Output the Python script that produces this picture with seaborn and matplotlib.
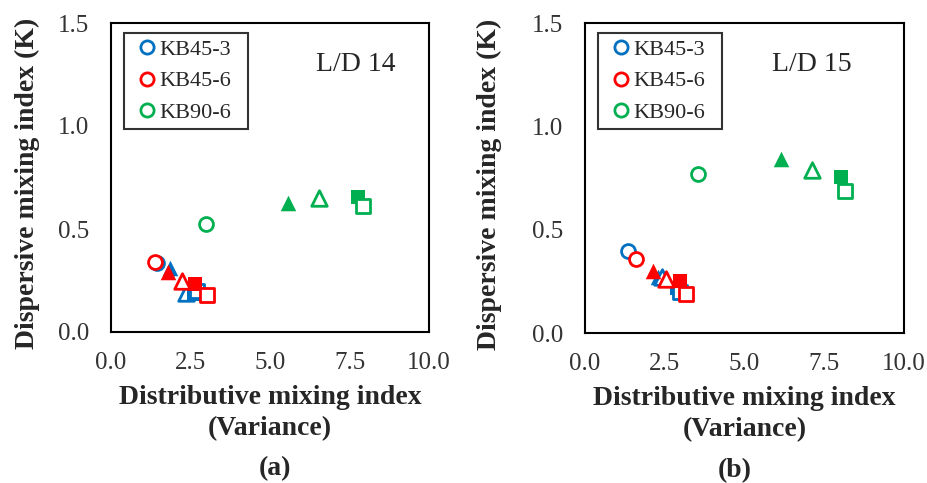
import pandas as pd
import matplotlib
matplotlib.use("Agg")
import matplotlib.pyplot as plt
from matplotlib.lines import Line2D
import seaborn as sns

########################################################################
### data
########################################################################
series = ["KB45-3", "KB45-6", "KB90-6"]
kinds = ["circle", "tri_filled", "tri_open", "sq_filled", "sq_open"]

# panel (a) L/D 14, one x/y list per series in the order of kinds
a_x = {"KB45-3": [1.45, 1.85, 2.35, 2.60, 2.70],
       "KB45-6": [1.38, 1.80, 2.24, 2.64, 3.02],
       "KB90-6": [2.98, 5.56, 6.53, 7.77, 7.92]}
a_y = {"KB45-3": [0.335, 0.31, 0.19, 0.185, 0.20],
       "KB45-6": [0.34, 0.29, 0.25, 0.235, 0.18],
       "KB90-6": [0.524, 0.626, 0.65, 0.655, 0.61]}

# panel (b) L/D 15
b_x = {"KB45-3": [1.36, 2.30, 2.40, 2.88, 2.98],
       "KB45-6": [1.60, 2.14, 2.54, 2.98, 3.17],
       "KB90-6": [3.55, 6.14, 7.13, 8.02, 8.15]}
b_y = {"KB45-3": [0.395, 0.27, 0.27, 0.22, 0.20],
       "KB45-6": [0.36, 0.30, 0.26, 0.25, 0.19],
       "KB90-6": [0.77, 0.84, 0.79, 0.755, 0.685]}

panel_titles = ["L/D 14", "L/D 15"]
panel_tags = ["(a)", "(b)"]
x_ticks = [0.0, 2.5, 5.0, 7.5, 10.0]
y_ticks = [0.0, 0.5, 1.0, 1.5]

colors = {"KB45-3": "#0070C0", "KB45-6": "#FF0000", "KB90-6": "#00B050"}
marker_of = {"circle": "o", "tri_filled": "^", "tri_open": "^",
             "sq_filled": "s", "sq_open": "s"}

rows = []
for panel, (px, py) in enumerate([(a_x, a_y), (b_x, b_y)]):
    for s in series:
        for k, xv, yv in zip(kinds, px[s], py[s]):
            rows.append({"panel": panel, "series": s, "kind": k, "x": xv, "y": yv})
df = pd.DataFrame(rows)

########################################################################
### plot
########################################################################
sns.set_style("white")
plt.rcParams["font.family"] = ["Liberation Serif", "DejaVu Serif"]

fig = plt.figure(figsize=(9.27, 4.83), dpi=100)
ax_pos = [[111 / 927, 151 / 483, 318 / 927, 309 / 483],
          [585 / 927, 150 / 483, 319 / 927, 310 / 483]]
title_x = [0.769, 0.712]
ylabel_x = [-0.223, -0.260]
tag_x = [0.516, 0.47]

for panel in range(2):
    ax = fig.add_axes(ax_pos[panel])
    sub = df[df["panel"] == panel]
    z = 3
    for s in series:
        for k in kinds:
            d = sub[(sub["series"] == s) & (sub["kind"] == k)]
            filled = k.endswith("filled")
            size = 100 if k == "circle" else (125 if "tri" in k else 115)
            sns.scatterplot(data=d, x="x", y="y", ax=ax,
                            marker=marker_of[k], s=size,
                            color=colors[s] if filled else "white",
                            edgecolor=colors[s],
                            linewidth=0 if filled else 2.0,
                            zorder=z, legend=False)
            z += 1

    ax.set_xlim(0, 10)
    ax.set_ylim(0, 1.5)
    ax.set_xticks(x_ticks)
    ax.set_yticks(y_ticks)
    ax.set_xticklabels(["%.1f" % t for t in x_ticks])
    ax.set_yticklabels(["%.1f" % t for t in y_ticks])
    ax.tick_params(direction="in", length=7, width=1.5, labelsize=18,
                   labelcolor="#333333")
    ax.tick_params(axis="x", pad=14.5)
    ax.tick_params(axis="y", pad=16)
    for sp in ax.spines.values():
        sp.set_visible(True)
        sp.set_color("black")
        sp.set_linewidth(1.5)

    ax.set_xlabel("Distributive mixing index\n(Variance)", fontsize=20,
                  fontweight="bold", linespacing=1.35)
    ax.xaxis.set_label_coords(0.5, -0.17)
    ax.set_ylabel("Dispersive mixing index (K)", fontsize=20,
                  fontweight="bold")
    ax.yaxis.set_label_coords(ylabel_x[panel], 0.48)
    ax.text(title_x[panel], 0.865, panel_titles[panel], transform=ax.transAxes,
            ha="center", va="center", fontsize=20)
    ax.text(tag_x[panel], -0.443, panel_tags[panel], transform=ax.transAxes,
            ha="center", va="center", fontsize=20, fontweight="bold")

    handles = [Line2D([], [], marker="o", linestyle="none", markersize=9.5,
                      markerfacecolor="white", markeredgecolor=colors[s],
                      markeredgewidth=2.0, label=s) for s in series]
    leg = ax.legend(handles=handles, loc="upper left",
                    bbox_to_anchor=(0.041, 0.0, 0.39, 0.968), mode="expand",
                    fontsize=16, frameon=True, fancybox=False,
                    handletextpad=-0.18, handlelength=1.45, borderpad=0.3,
                    labelspacing=0.48, borderaxespad=0)
    leg.get_frame().set_edgecolor("black")
    leg.get_frame().set_linewidth(1.5)

plt.savefig("out.png", dpi=100)
